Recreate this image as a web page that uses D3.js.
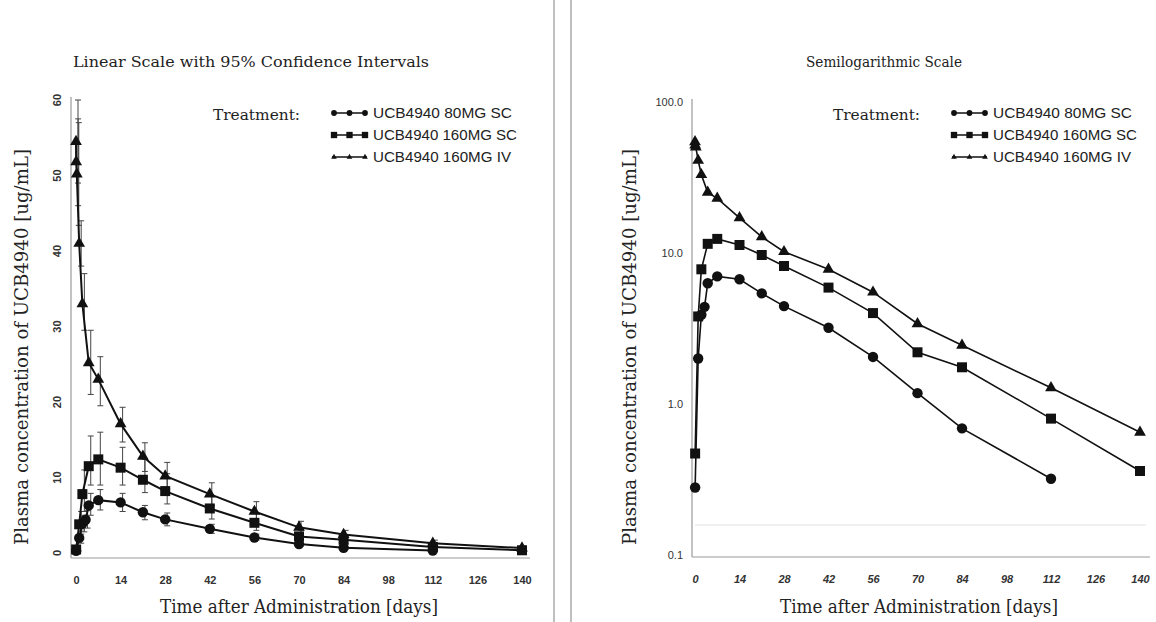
<!DOCTYPE html>
<html>
<head>
<meta charset="utf-8">
<script src="https://cdn.jsdelivr.net/npm/d3@7"></script>
<style>
  body { margin: 0; background: #fff; }
  svg { display: block; }
</style>
</head>
<body>
<div id="container"></div>
<script>
// ---- data ----
let dayTicks = [0, 14, 28, 42, 56, 70, 84, 98, 112, 126, 140];
let linTicks = [0, 10, 20, 30, 40, 50, 60];
let logTicks = [0.1, 1, 10, 100];
let logTickLabels = ["0.1", "1.0", "10.0", "100.0"];
let seriesNames = ["UCB4940 80MG SC", "UCB4940 160MG SC", "UCB4940 160MG IV"];
let lloq = 0.158;

let sc80Days = [0.04, 1, 2, 3, 4, 7, 14, 21, 28, 42, 56, 70, 84, 112];
let sc80Mean = [0.28, 2.0, 3.9, 4.4, 6.3, 7.0, 6.7, 5.4, 4.45, 3.2, 2.05, 1.18, 0.69, 0.32];
let sc80Low  = [0.2, 1.3, 2.8, 3.3, 5.0, 5.7, 5.5, 4.4, 3.6, 2.6, 1.7, 0.95, 0.55, 0.25];
let sc80High = [0.4, 2.9, 5.0, 5.6, 7.9, 8.4, 7.9, 6.3, 5.3, 3.8, 2.5, 1.45, 0.85, 0.4];

let sc160Days = [0.04, 1, 2, 4, 7, 14, 21, 28, 42, 56, 70, 84, 112, 140];
let sc160Mean = [0.47, 3.8, 7.8, 11.5, 12.4, 11.3, 9.7, 8.2, 5.9, 4.0, 2.2, 1.75, 0.80, 0.36];
let sc160Low  = [0.3, 2.5, 5.5, 9.0, 9.0, 9.0, 8.0, 6.5, 4.5, 3.0, 1.6, 1.2, 0.5, 0.2];
let sc160High = [0.7, 5.5, 11.0, 15.5, 16.0, 14.0, 12.4, 10.5, 7.5, 5.2, 3.0, 2.3, 1.1, 0.55];

let ivDays = [0, 0.04, 0.25, 1, 2, 4, 7, 14, 21, 28, 42, 56, 70, 84, 112, 140];
let ivMean = [54.5, 51.8, 50.2, 41, 33, 25.2, 23, 17.1, 12.8, 10.2, 7.8, 5.5, 3.4, 2.45, 1.28, 0.65];
let ivLow  = [49, 46, 43.4, 38, 29.5, 21, 19.5, 14.7, 10.8, 8.5, 6.3, 4.2, 2.6, 1.8, 0.9, 0.4];
let ivHigh = [60, 57.5, 57, 44, 37, 29.5, 26, 19.3, 14.6, 12, 9.3, 6.8, 4.2, 3.0, 1.7, 0.9];

function rows(days, mean, low, high) {
  return days.map((d, i) => ({day: d, mean: mean[i], low: low[i], high: high[i]}));
}
let series = [
  {name: seriesNames[0], shape: d3.symbolCircle, size: 85, legendSize: 26, data: rows(sc80Days, sc80Mean, sc80Low, sc80High)},
  {name: seriesNames[1], shape: d3.symbolSquare, size: 100, legendSize: 40, data: rows(sc160Days, sc160Mean, sc160Low, sc160High)},
  {name: seriesNames[2], shape: d3.symbolTriangle, size: 60, legendSize: 14, data: rows(ivDays, ivMean, ivLow, ivHigh)}
];

let w = 1156, h = 622;
let serif = "'DejaVu Serif', 'Liberation Serif', serif";
let sans = "'Liberation Sans', Arial, sans-serif";

let svg = d3.select("#container").append("svg")
  .attr("width", w).attr("height", h);

// panel dividers
svg.append("line").attr("x1", 554).attr("x2", 554).attr("y1", 0).attr("y2", h)
  .attr("stroke", "#aaa").attr("stroke-width", 1.5);
svg.append("line").attr("x1", 571).attr("x2", 571).attr("y1", 0).attr("y2", h)
  .attr("stroke", "#aaa").attr("stroke-width", 1.5);

function drawPanel(p) {
  let g = svg.append("g");
  let x = p.x, y = p.y;

  // axis lines
  g.append("line").attr("x1", p.axisX).attr("x2", p.axisX).attr("y1", p.top).attr("y2", p.axisY)
    .attr("stroke", "#999").attr("stroke-width", 1.2);
  g.append("line").attr("x1", p.axisX).attr("x2", p.right).attr("y1", p.axisY).attr("y2", p.axisY)
    .attr("stroke", "#999").attr("stroke-width", 1.2);

  // x tick labels
  let xAxis = g.append("g").attr("transform", "translate(0," + (p.axisY + 26) + ")")
    .call(d3.axisBottom(x).tickValues(dayTicks).tickSize(0).tickFormat(d3.format("d")));
  xAxis.select(".domain").remove();
  xAxis.selectAll("text").attr("dy", 0).attr("y", 0)
    .style("font-family", sans).style("font-size", "11px").style("font-weight", "bold")
    .style("font-style", p.italicX ? "italic" : "normal").attr("fill", "#333");

  // y tick labels
  if (p.log) {
    g.selectAll(".ytl").data(logTicks).enter().append("text")
      .attr("x", p.axisX - 9).attr("y", d => y(d) + 4)
      .attr("text-anchor", "end")
      .style("font-family", sans).style("font-size", "11px").attr("fill", "#333")
      .text((d, i) => logTickLabels[i]);
    g.append("line").attr("x1", x(0)).attr("x2", p.right - 4)
      .attr("y1", y(lloq)).attr("y2", y(lloq))
      .attr("stroke", "#e2e2e2").attr("stroke-width", 1);
  } else {
    g.selectAll(".ytl").data(linTicks).enter().append("text")
      .attr("transform", d => "translate(" + (p.axisX - 14) + "," + y(d) + ") rotate(-90)")
      .attr("text-anchor", "middle").attr("dy", "0.35em")
      .style("font-family", sans).style("font-size", "11px").style("font-weight", "bold")
      .attr("fill", "#333")
      .text(d => d);
  }

  // titles
  g.append("text").attr("x", p.titleX).attr("y", 67).attr("text-anchor", "middle")
    .attr("textLength", p.titleLen).attr("lengthAdjust", "spacingAndGlyphs")
    .style("font-family", serif).style("font-size", "15px").attr("fill", "#222")
    .text(p.title);
  g.append("text").attr("x", p.xTitleX).attr("y", 613).attr("text-anchor", "middle")
    .attr("textLength", 278).attr("lengthAdjust", "spacingAndGlyphs")
    .style("font-family", serif).style("font-size", "18px").attr("fill", "#222")
    .text("Time after Administration [days]");
  g.append("text").attr("transform", "translate(" + p.yTitleX + ",347) rotate(-90)")
    .attr("text-anchor", "middle").attr("dy", "0.35em")
    .attr("textLength", 396).attr("lengthAdjust", "spacingAndGlyphs")
    .style("font-family", serif).style("font-size", "18px").attr("fill", "#222")
    .text("Plasma concentration of UCB4940 [ug/mL]");

  // error bars (linear panel only)
  if (p.errors) {
    series.forEach(s => {
      let eb = g.append("g").attr("stroke", "#444").attr("stroke-width", 1);
      eb.selectAll("line.v").data(s.data).enter().append("line")
        .attr("x1", d => x(d.day) + 2).attr("x2", d => x(d.day) + 2)
        .attr("y1", d => y(d.low)).attr("y2", d => y(d.high));
      eb.selectAll("line.hi").data(s.data).enter().append("line")
        .attr("x1", d => x(d.day) - 1).attr("x2", d => x(d.day) + 5)
        .attr("y1", d => y(d.high)).attr("y2", d => y(d.high));
      eb.selectAll("line.lo").data(s.data).enter().append("line")
        .attr("x1", d => x(d.day) - 1).attr("x2", d => x(d.day) + 5)
        .attr("y1", d => y(d.low)).attr("y2", d => y(d.low));
    });
  }

  // lines and markers
  let line = d3.line().x(d => x(d.day)).y(d => y(d.mean));
  series.forEach(s => {
    g.append("path").datum(s.data).attr("d", line)
      .attr("fill", "none").attr("stroke", "#111").attr("stroke-width", p.lineW);
    g.selectAll(null).data(s.data).enter().append("path")
      .attr("d", d3.symbol().type(s.shape).size(s.size))
      .attr("transform", d => "translate(" + x(d.day) + "," + y(d.mean) + ")")
      .attr("fill", "#111");
  });

  // legend
  g.append("text").attr("x", p.legX - 119).attr("y", 120)
    .attr("textLength", 87).attr("lengthAdjust", "spacingAndGlyphs")
    .style("font-family", serif).style("font-size", "15px").attr("fill", "#222")
    .text("Treatment:");
  let rowY = [113, 135, 157];
  let textLen = [139, 144, 138];
  series.forEach((s, i) => {
    let ly = rowY[i];
    g.append("line").attr("x1", p.legX).attr("x2", p.legX + 35).attr("y1", ly).attr("y2", ly)
      .attr("stroke", "#111").attr("stroke-width", 1.4);
    g.selectAll(null).data([0, 0.5, 1]).enter().append("path")
      .attr("d", d3.symbol().type(s.shape).size(s.legendSize))
      .attr("transform", d => "translate(" + (p.legX + 2 + d * 31) + "," + ly + ")")
      .attr("fill", "#111");
    g.append("text").attr("x", p.legX + 41).attr("y", ly + 5)
      .attr("textLength", textLen[i]).attr("lengthAdjust", "spacingAndGlyphs")
      .style("font-family", sans).style("font-size", "14px").attr("fill", "#222")
      .text(s.name);
  });
}

drawPanel({
  x: d3.scaleLinear().domain([0, 140]).range([76, 522]),
  y: d3.scaleLinear().domain([0, 60]).range([553, 100]),
  log: false, errors: true, italicX: false, lineW: 2,
  axisX: 71, axisY: 558, top: 97, right: 530,
  title: "Linear Scale with 95% Confidence Intervals", titleX: 251, titleLen: 356,
  xTitleX: 299, yTitleX: 22, legX: 332
});

drawPanel({
  x: d3.scaleLinear().domain([0, 140]).range([695, 1140]),
  y: d3.scaleLog().domain([0.1, 100]).range([555, 102]),
  log: true, errors: false, italicX: true, lineW: 1.6,
  axisX: 692, axisY: 557, top: 99, right: 1150,
  title: "Semilogarithmic Scale", titleX: 884, titleLen: 156,
  xTitleX: 919, yTitleX: 630, legX: 952
});
</script>
</body>
</html>
